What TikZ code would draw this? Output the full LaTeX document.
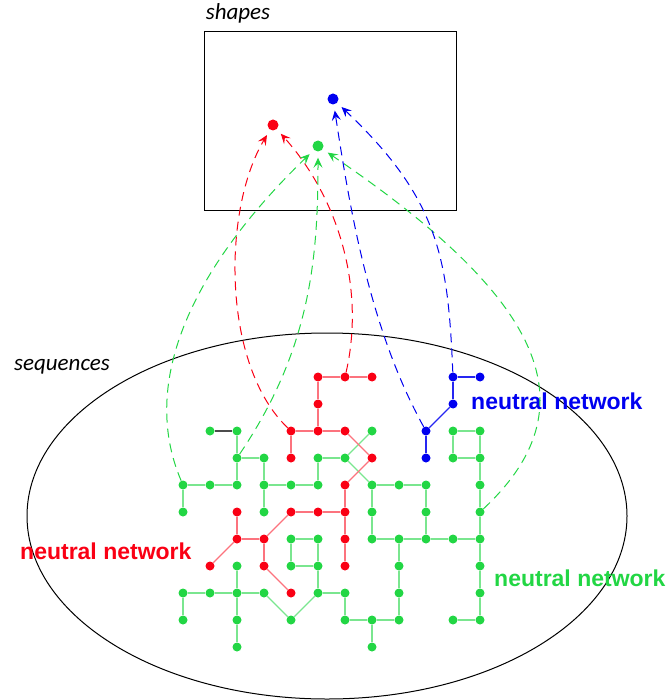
\documentclass[tikz,border=0pt]{standalone}
\usepackage{fontspec}
\setmainfont{Liberation Sans}
\newfontfamily\setfont{Carlito}
\usetikzlibrary{arrows.meta}
\definecolor{netgreen}{RGB}{34,214,68}
\definecolor{netred}{RGB}{250,0,20}
\definecolor{netblue}{RGB}{0,0,240}
\tikzstyle{none}=[]
\tikzstyle{green node}=[circle, fill=netgreen, inner sep=0pt, minimum size=9pt]
\tikzstyle{red node}=[circle, fill=netred, inner sep=0pt, minimum size=9pt]
\tikzstyle{blue node}=[circle, fill=netblue, inner sep=0pt, minimum size=9pt]
\tikzstyle{green shape}=[circle, fill=netgreen, inner sep=0pt, minimum size=11pt]
\tikzstyle{red shape}=[circle, fill=netred, inner sep=0pt, minimum size=11pt]
\tikzstyle{blue shape}=[circle, fill=netblue, inner sep=0pt, minimum size=11pt]
\tikzstyle{green edge}=[draw=netgreen!60, line width=1.3pt]
\tikzstyle{red edge}=[draw=netred!55, line width=1.3pt]
\tikzstyle{blue edge}=[draw=netblue!85, line width=1.1pt]
\tikzstyle{dark edge}=[draw=black!70, line width=1.3pt]
\tikzstyle{map}=[dash pattern=on 9pt off 6pt, line width=1pt, -{Stealth[length=10pt, width=9pt, inset=4pt]}, shorten >=6pt]
\tikzstyle{set name}=[font=\setfont\itshape\fontsize{23}{26}\selectfont]
\tikzstyle{network name}=[anchor=west, inner sep=0pt, font=\bfseries\fontsize{23}{26}\selectfont]

\begin{document}
\begin{tikzpicture}[x=1pt, y=-1pt]
                \useasboundingbox (0, 0) rectangle (666, 700);
                \draw [line width=1pt] (204, 32) rectangle (456, 211);
                \draw [line width=1pt] (327, 516) ellipse [x radius=300pt, y radius=183pt];
                \node [style=set name] (4) at (238, 13) {shapes};
                \node [style=set name] (5) at (62, 367) {sequences};
                \node [style=red shape] (1) at (273, 125) {};
                \node [style=green shape] (2) at (318, 146) {};
                \node [style=blue shape] (3) at (333, 99) {};
                \node [style=network name, text=netblue] (6) at (471, 401) {neutral network};
                \node [style=network name, text=netred] (7) at (20, 551) {neutral network};
                \node [style=network name, text=netgreen] (8) at (494, 578) {neutral network};
                \node [style=red node] (105) at (318, 377) {};
                \node [style=red node] (106) at (345, 377) {};
                \node [style=red node] (107) at (372, 377) {};
                \node [style=blue node] (110) at (453, 377) {};
                \node [style=blue node] (111) at (480, 377) {};
                \node [style=red node] (205) at (318, 404) {};
                \node [style=blue node] (210) at (453, 404) {};
                \node [style=green node] (301) at (210, 431) {};
                \node [style=green node] (302) at (237, 431) {};
                \node [style=red node] (304) at (291, 431) {};
                \node [style=red node] (305) at (318, 431) {};
                \node [style=red node] (306) at (345, 431) {};
                \node [style=green node] (307) at (372, 431) {};
                \node [style=blue node] (309) at (426, 431) {};
                \node [style=green node] (310) at (453, 431) {};
                \node [style=green node] (311) at (480, 431) {};
                \node [style=green node] (402) at (237, 458) {};
                \node [style=green node] (403) at (264, 458) {};
                \node [style=red node] (404) at (291, 458) {};
                \node [style=green node] (405) at (318, 458) {};
                \node [style=green node] (406) at (345, 458) {};
                \node [style=red node] (407) at (372, 458) {};
                \node [style=blue node] (409) at (426, 458) {};
                \node [style=green node] (410) at (453, 458) {};
                \node [style=green node] (411) at (480, 458) {};
                \node [style=green node] (500) at (183, 485) {};
                \node [style=green node] (501) at (210, 485) {};
                \node [style=green node] (502) at (237, 485) {};
                \node [style=green node] (503) at (264, 485) {};
                \node [style=green node] (504) at (291, 485) {};
                \node [style=green node] (505) at (318, 485) {};
                \node [style=red node] (506) at (345, 485) {};
                \node [style=green node] (507) at (372, 485) {};
                \node [style=green node] (508) at (399, 485) {};
                \node [style=green node] (509) at (426, 485) {};
                \node [style=green node] (511) at (480, 485) {};
                \node [style=green node] (600) at (183, 512) {};
                \node [style=red node] (602) at (237, 512) {};
                \node [style=green node] (603) at (264, 512) {};
                \node [style=red node] (604) at (291, 512) {};
                \node [style=red node] (605) at (318, 512) {};
                \node [style=red node] (606) at (345, 512) {};
                \node [style=green node] (607) at (372, 512) {};
                \node [style=green node] (609) at (426, 512) {};
                \node [style=green node] (611) at (480, 512) {};
                \node [style=red node] (702) at (237, 539) {};
                \node [style=red node] (703) at (264, 539) {};
                \node [style=green node] (704) at (291, 539) {};
                \node [style=green node] (705) at (318, 539) {};
                \node [style=red node] (706) at (345, 539) {};
                \node [style=green node] (707) at (372, 539) {};
                \node [style=green node] (708) at (399, 539) {};
                \node [style=green node] (709) at (426, 539) {};
                \node [style=green node] (710) at (453, 539) {};
                \node [style=green node] (711) at (480, 539) {};
                \node [style=red node] (801) at (210, 566) {};
                \node [style=green node] (802) at (237, 566) {};
                \node [style=red node] (803) at (264, 566) {};
                \node [style=green node] (804) at (291, 566) {};
                \node [style=green node] (805) at (318, 566) {};
                \node [style=red node] (806) at (345, 566) {};
                \node [style=green node] (808) at (399, 566) {};
                \node [style=green node] (811) at (480, 566) {};
                \node [style=green node] (900) at (183, 593) {};
                \node [style=green node] (901) at (210, 593) {};
                \node [style=green node] (902) at (237, 593) {};
                \node [style=green node] (903) at (264, 593) {};
                \node [style=red node] (904) at (291, 593) {};
                \node [style=green node] (905) at (318, 593) {};
                \node [style=green node] (906) at (345, 593) {};
                \node [style=green node] (908) at (399, 593) {};
                \node [style=green node] (911) at (480, 593) {};
                \node [style=green node] (1000) at (183, 620) {};
                \node [style=green node] (1002) at (237, 620) {};
                \node [style=green node] (1004) at (291, 620) {};
                \node [style=green node] (1006) at (345, 620) {};
                \node [style=green node] (1007) at (372, 620) {};
                \node [style=green node] (1008) at (399, 620) {};
                \node [style=green node] (1010) at (453, 620) {};
                \node [style=green node] (1011) at (480, 620) {};
                \node [style=green node] (1102) at (237, 647) {};
                \node [style=green node] (1107) at (372, 647) {};
                \draw [style=dark edge] (301) to (302);
                \draw [style=green edge] (302) to (402);
                \draw [style=green edge] (402) to (403);
                \draw [style=green edge] (402) to (502);
                \draw [style=green edge] (403) to (503);
                \draw [style=green edge] (503) to (603);
                \draw [style=green edge] (500) to (501);
                \draw [style=green edge] (501) to (502);
                \draw [style=green edge] (503) to (504);
                \draw [style=green edge] (504) to (505);
                \draw [style=green edge] (405) to (505);
                \draw [style=green edge] (405) to (406);
                \draw [style=green edge] (500) to (600);
                \draw [style=green edge] (307) to (406);
                \draw [style=green edge] (406) to (507);
                \draw [style=green edge] (507) to (508);
                \draw [style=green edge] (508) to (509);
                \draw [style=green edge] (507) to (607);
                \draw [style=green edge] (509) to (609);
                \draw [style=green edge] (310) to (311);
                \draw [style=green edge] (311) to (411);
                \draw [style=green edge] (411) to (410);
                \draw [style=green edge] (410) to (310);
                \draw [style=green edge] (411) to (511);
                \draw [style=green edge] (511) to (611);
                \draw [style=green edge] (607) to (707);
                \draw [style=green edge] (609) to (709);
                \draw [style=green edge] (611) to (711);
                \draw [style=green edge] (707) to (708);
                \draw [style=green edge] (708) to (709);
                \draw [style=green edge] (709) to (710);
                \draw [style=green edge] (710) to (711);
                \draw [style=green edge] (704) to (705);
                \draw [style=green edge] (705) to (805);
                \draw [style=green edge] (805) to (804);
                \draw [style=green edge] (804) to (704);
                \draw [style=green edge] (805) to (905);
                \draw [style=green edge] (905) to (906);
                \draw [style=green edge] (906) to (1006);
                \draw [style=green edge] (1006) to (1007);
                \draw [style=green edge] (1007) to (1008);
                \draw [style=green edge] (1007) to (1107);
                \draw [style=green edge] (708) to (808);
                \draw [style=green edge] (808) to (908);
                \draw [style=green edge] (908) to (1008);
                \draw [style=green edge] (711) to (811);
                \draw [style=green edge] (811) to (911);
                \draw [style=green edge] (911) to (1011);
                \draw [style=green edge] (1010) to (1011);
                \draw [style=green edge] (900) to (901);
                \draw [style=green edge] (901) to (902);
                \draw [style=green edge] (902) to (903);
                \draw [style=green edge] (900) to (1000);
                \draw [style=green edge] (802) to (902);
                \draw [style=green edge] (902) to (1002);
                \draw [style=green edge] (1002) to (1102);
                \draw [style=green edge] (903) to (1004);
                \draw [style=green edge] (1004) to (905);
                \draw [style=red edge] (105) to (106);
                \draw [style=red edge] (106) to (107);
                \draw [style=red edge] (105) to (205);
                \draw [style=red edge] (205) to (305);
                \draw [style=red edge] (304) to (305);
                \draw [style=red edge] (305) to (306);
                \draw [style=red edge] (304) to (404);
                \draw [style=red edge] (306) to (407);
                \draw [style=red edge] (407) to (506);
                \draw [style=red edge] (506) to (606);
                \draw [style=red edge] (605) to (606);
                \draw [style=red edge] (606) to (706);
                \draw [style=red edge] (706) to (806);
                \draw [style=red edge] (604) to (605);
                \draw [style=red edge] (703) to (604);
                \draw [style=red edge] (602) to (702);
                \draw [style=red edge] (702) to (703);
                \draw [style=red edge] (702) to (801);
                \draw [style=red edge] (703) to (803);
                \draw [style=red edge] (803) to (904);
                \draw [style=blue edge] (110) to (111);
                \draw [style=blue edge] (110) to (210);
                \draw [style=blue edge] (210) to (309);
                \draw [style=blue edge] (309) to (409);
                \draw [style=map, draw=netred] (304) .. controls (222, 365) and (222, 210) .. (1);
                \draw [style=map, draw=netred] (106) .. controls (365, 290) and (340, 200) .. (1);
                \draw [style=map, draw=netgreen] (500) .. controls (138, 380) and (195, 265) .. (2);
                \draw [style=map, draw=netgreen] (402) .. controls (310, 350) and (318, 260) .. (2);
                \draw [style=map, draw=netgreen] (611) .. controls (600, 400) and (530, 290) .. (2);
                \draw [style=map, draw=netblue] (309) .. controls (370, 330) and (350, 210) .. (3);
                \draw [style=map, draw=netblue] (110) .. controls (448, 260) and (440, 200) .. (3);
    \end{tikzpicture}
\end{document}
